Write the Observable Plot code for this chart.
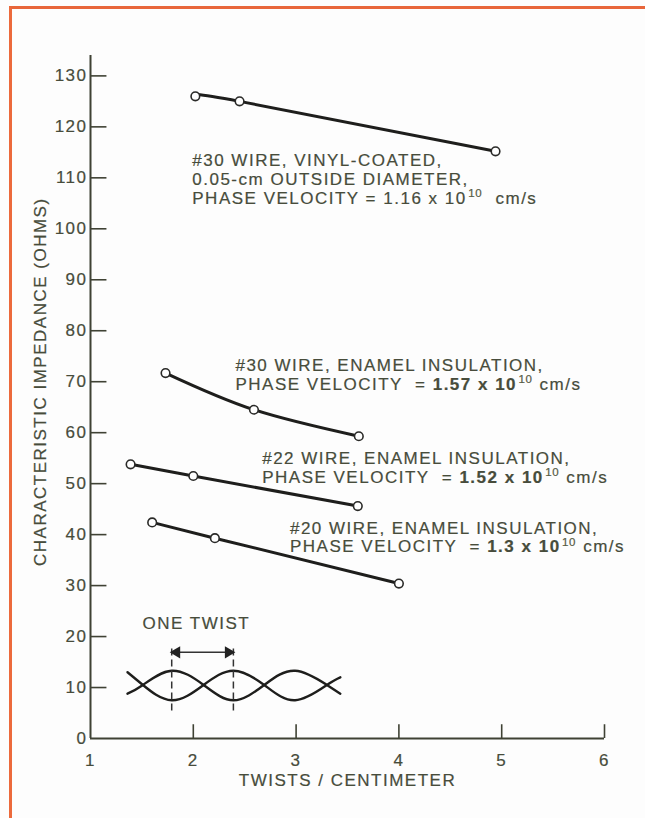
<!DOCTYPE html>
<html><head><meta charset="utf-8">
<script src="https://cdn.jsdelivr.net/npm/d3@7"></script>
<script src="https://cdn.jsdelivr.net/npm/@observablehq/plot@0.6"></script>
<style>
body{margin:0;background:#fff;}
#wrap{position:relative;width:645px;height:818px;overflow:hidden;background:#fdfdfd;}
#frame{position:absolute;left:9px;top:6px;right:-10px;bottom:-10px;border-top:3px solid #e8663a;border-left:3px solid #ec6a3c;pointer-events:none;}
#chart svg{display:block;}
#chart svg text{letter-spacing:1.5px;stroke:#474c3b;stroke-width:0.2px;}
</style></head><body>
<div id="wrap"><div id="chart"></div><div id="frame"></div></div>
<script>
// ---- data ----
const xTicks = [1, 2, 3, 4, 5, 6];
const yTicks = [0, 10, 20, 30, 40, 50, 60, 70, 80, 90, 100, 110, 120, 130];

const vinyl30X = [2.02, 2.45, 4.94];
const vinyl30Y = [126.0, 125.0, 115.2];
const enamel30X = [1.73, 2.59, 3.61];
const enamel30Y = [71.7, 64.5, 59.3];
const enamel22X = [1.39, 2.00, 3.60];
const enamel22Y = [53.8, 51.5, 45.6];
const enamel20X = [1.60, 2.21, 4.00];
const enamel20Y = [42.4, 39.3, 30.4];

const seriesNames = ["#30 vinyl", "#30 enamel", "#22 enamel", "#20 enamel"];
const labelVinyl30 = ["#30 WIRE, VINYL-COATED,", "0.05-cm OUTSIDE DIAMETER,", "PHASE VELOCITY = 1.16 x 10¹⁰  cm/s"];
const labelEnamel30 = ["#30 WIRE, ENAMEL INSULATION,", "PHASE VELOCITY  = 1.57 x 10¹⁰ cm/s"];
const labelEnamel22 = ["#22 WIRE, ENAMEL INSULATION,", "PHASE VELOCITY  = 1.52 x 10¹⁰ cm/s"];
const labelEnamel20 = ["#20 WIRE, ENAMEL INSULATION,", "PHASE VELOCITY  = 1.3 x 10¹⁰ cm/s"];

// twisted-pair sketch (key points)
const twistX = [1.36, 1.51, 1.79, 2.10, 2.39, 2.69, 2.99, 3.30, 3.43];
const wireAY = [13.0, 10.5, 7.5, 10.5, 13.3, 10.5, 7.5, 10.5, 12.0];
const wireBY = [8.8, 10.5, 13.3, 10.5, 7.5, 10.5, 13.3, 10.5, 8.8];
const oneTwistX = [1.79, 2.39];

const xTitle = "TWISTS / CENTIMETER";
const yTitle = "CHARACTERISTIC IMPEDANCE (OHMS)";
const twistTitle = "ONE TWIST";

// ---- build tables ----
const seriesXY = [[vinyl30X, vinyl30Y], [enamel30X, enamel30Y], [enamel22X, enamel22Y], [enamel20X, enamel20Y]];
const rows = seriesXY.flatMap(([xs, ys], i) => xs.map((x, j) => ({series: seriesNames[i], x, y: ys[j]})));
const wires = [wireAY, wireBY].flatMap((ys, i) => twistX.map((x, j) => ({wire: i, x, y: ys[j]})));

const ink = "#1e1e1c";
const textInk = "#474c3b";
const axisInk = "#3f4234";
const font = "'Liberation Sans', Arial, Helvetica, sans-serif";
const fs = 17;

const annotations = [
  {lines: labelVinyl30, x: 1.99, y: 109.8, bold: false},
  {lines: labelEnamel30, x: 2.41, y: 71.4, bold: true},
  {lines: labelEnamel22, x: 2.67, y: 53.2, bold: true},
  {lines: labelEnamel20, x: 2.94, y: 39.5, bold: true}
];

const chart = Plot.plot({
  width: 645, height: 818,
  marginLeft: 90, marginRight: 41, marginTop: 55, marginBottom: 80,
  x: {domain: [1, 6], axis: null},
  y: {domain: [0, 134], axis: null},
  style: {fontFamily: font, background: "transparent", color: textInk},
  marks: [
    // axes
    Plot.ruleX([1], {y1: 0, y2: 134, stroke: axisInk, strokeWidth: 2}),
    Plot.ruleY([0], {x1: 1, x2: 6, stroke: axisInk, strokeWidth: 2}),
    Plot.ruleY(yTicks.filter(d => d > 0), {y: d => d, x1: 1, x2: 1.16, stroke: axisInk, strokeWidth: 1.6}),
    Plot.ruleX(xTicks.filter(d => d > 1), {x: d => d, y1: 0, y2: 2.7, stroke: axisInk, strokeWidth: 1.6}),
    Plot.text(yTicks, {x: 1, y: d => d, text: d => String(d), textAnchor: "end", dx: -3, fontSize: fs, fill: textInk}),
    Plot.text(xTicks, {x: d => d, y: 0, text: d => String(d), dy: 22, fontSize: fs, fill: textInk}),
    Plot.text([xTitle], {x: 3.5, y: 0, dy: 42, fontSize: fs, fill: textInk}),
    Plot.text([yTitle], {x: 1, y: 70, dx: -50, rotate: -90, fontSize: fs, fill: textInk}),
    // data
    Plot.line(rows, {x: "x", y: "y", z: "series", curve: "natural", stroke: ink, strokeWidth: 3}),
    Plot.dot(rows, {x: "x", y: "y", r: 4.3, fill: "white", stroke: "#2a2a28", strokeWidth: 1.6}),
    // annotations
    ...annotations.map(a => Plot.text([a.lines.join("\n")], {x: a.x, y: a.y, text: d => d, textAnchor: "start", lineAnchor: "middle", lineHeight: 1.1, fontSize: fs, fill: textInk})),
    // twist sketch
    Plot.line(wires, {x: "x", y: "y", z: "wire", curve: "natural", stroke: ink, strokeWidth: 2.4}),
    Plot.ruleX(oneTwistX, {x: d => d, y1: 5.4, y2: 18.2, stroke: "#333", strokeWidth: 1.5, strokeDasharray: "7,4"}),
    Plot.link([oneTwistX], {x1: d => d[0], x2: d => d[1], y1: 16.9, y2: 16.9, stroke: "#333", strokeWidth: 1.5}),
    Plot.dot([oneTwistX[0]], {x: d => d, y: 16.9, symbol: "triangle", rotate: -90, r: 4.5, dx: 5, fill: "#222", stroke: "none"}),
    Plot.dot([oneTwistX[1]], {x: d => d, y: 16.9, symbol: "triangle", rotate: 90, r: 4.5, dx: -5, fill: "#222", stroke: "none"}),
    Plot.text([twistTitle], {x: (oneTwistX[0] + oneTwistX[1]) / 2 - 0.06, y: 22.6, fontSize: fs, fill: textInk})
  ]
});

// rich formatting of the phase-velocity lines (bold value, superscript exponent)
const boldByLine = new Map(annotations.map(a => [a.lines[a.lines.length - 1], a.bold]));
chart.querySelectorAll("tspan, text").forEach(el => {
  if (el.children.length) return;
  const t = el.textContent;
  const m = t.match(/^(.*=\s)(\S+ x 10)¹⁰(\s*cm\/s)$/);
  if (!m) return;
  const bold = boldByLine.get(t);
  const ns = "http://www.w3.org/2000/svg";
  el.textContent = "";
  el.appendChild(document.createTextNode(m[1]));
  const v = document.createElementNS(ns, "tspan");
  v.textContent = m[2];
  if (bold) v.setAttribute("font-weight", "bold");
  el.appendChild(v);
  const s = document.createElementNS(ns, "tspan");
  s.textContent = "10";
  s.setAttribute("font-size", "11.5");
  s.setAttribute("dy", "-7");
  s.setAttribute("dx", "1.5");
  s.setAttribute("fill", "#5a6045");
  s.setAttribute("letter-spacing", "0.5");
  el.appendChild(s);
  const u = document.createElementNS(ns, "tspan");
  u.textContent = m[3];
  u.setAttribute("dy", "7");
  u.setAttribute("dx", "1");
  el.appendChild(u);
});

document.getElementById("chart").appendChild(chart);
</script>
</body></html>
